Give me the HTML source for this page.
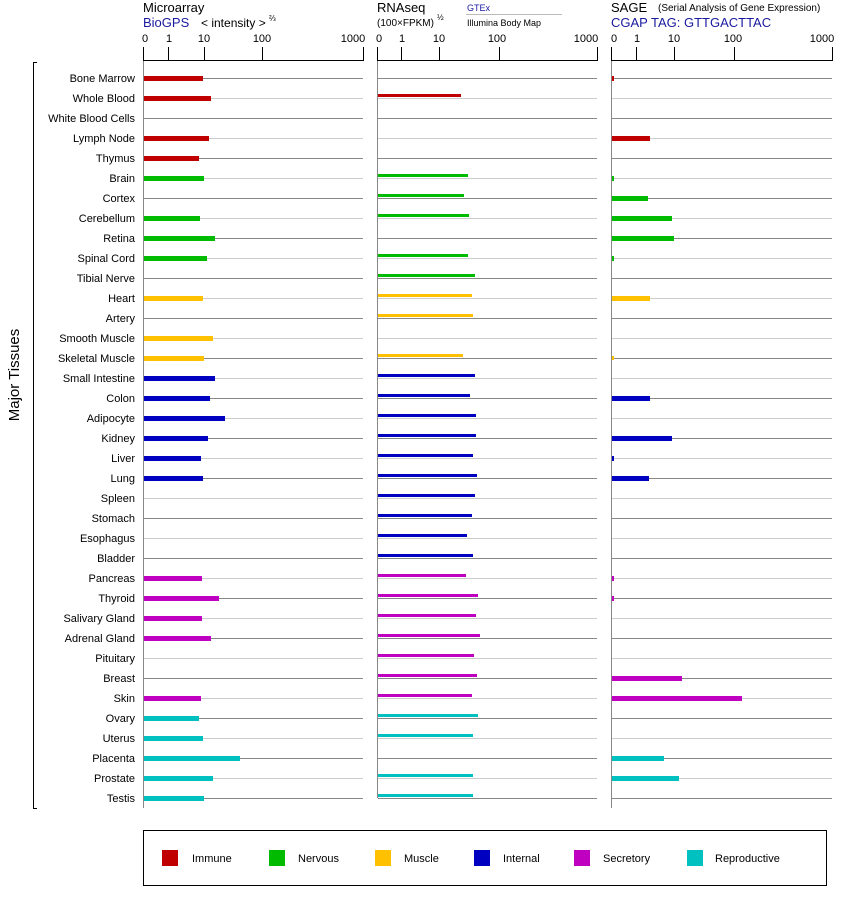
<!DOCTYPE html>
<html><head><meta charset="utf-8"><style>
body{margin:0;background:#fff;}
svg{display:block;font-family:"Liberation Sans",Arial,sans-serif;}
.l{font-size:11px;text-anchor:end;fill:#000}
.t{font-size:11px;text-anchor:middle;fill:#000}
.d{stroke:#888;stroke-width:1}
.g{stroke:#ccc;stroke-width:1}
</style></head><body>
<svg width="842" height="900" viewBox="0 0 842 900">
<text x="143" y="12" font-size="13">Microarray</text>
<text x="143" y="27" font-size="13" fill="#1a1aa0">BioGPS</text>
<text x="201" y="27" font-size="12">&lt; intensity &gt;</text>
<text x="269" y="21" font-size="8">⅔</text>
<text x="377" y="12" font-size="13">RNAseq</text>
<text x="377" y="26" font-size="10">(100×FPKM)</text>
<text x="437" y="20" font-size="8">½</text>
<text x="467" y="11" font-size="9" fill="#1a1aa0">GTEx</text>
<line x1="466" y1="14.5" x2="562" y2="14.5" stroke="#bbb"/>
<text x="467" y="26" font-size="9">Illumina Body Map</text>
<text x="611" y="12" font-size="13">SAGE</text>
<text x="658" y="11" font-size="10">(Serial Analysis of Gene Expression)</text>
<text x="611" y="27" font-size="13" fill="#1a1aa0">CGAP TAG: GTTGACTTAC</text>
<g stroke="#000" stroke-width="1">
<line x1="143.5" y1="60.5" x2="363" y2="60.5"/>
<line x1="143.5" y1="47" x2="143.5" y2="61"/><line x1="168.5" y1="47" x2="168.5" y2="61"/><line x1="204.5" y1="47" x2="204.5" y2="61"/><line x1="262.5" y1="47" x2="262.5" y2="61"/><line x1="363.5" y1="47" x2="363.5" y2="61"/>
<line x1="377.5" y1="60.5" x2="597" y2="60.5"/>
<line x1="377.5" y1="47" x2="377.5" y2="61"/><line x1="401.5" y1="47" x2="401.5" y2="61"/><line x1="439.5" y1="47" x2="439.5" y2="61"/><line x1="499.5" y1="47" x2="499.5" y2="61"/><line x1="597.5" y1="47" x2="597.5" y2="61"/>
<line x1="611.5" y1="60.5" x2="832" y2="60.5"/>
<line x1="611.5" y1="47" x2="611.5" y2="61"/><line x1="636.5" y1="47" x2="636.5" y2="61"/><line x1="674.5" y1="47" x2="674.5" y2="61"/><line x1="734.5" y1="47" x2="734.5" y2="61"/><line x1="832.5" y1="47" x2="832.5" y2="61"/>
</g>
<g class="t">
<text x="145" y="42">0</text><text x="169" y="42">1</text><text x="204" y="42">10</text><text x="262" y="42">100</text><text x="353" y="42">1000</text>
<text x="379" y="42">0</text><text x="402" y="42">1</text><text x="439" y="42">10</text><text x="497" y="42">100</text><text x="586" y="42">1000</text>
<text x="614" y="42">0</text><text x="637" y="42">1</text><text x="674" y="42">10</text><text x="733" y="42">100</text><text x="822" y="42">1000</text>
</g>
<g stroke="#888"><line x1="143.5" y1="61" x2="143.5" y2="808"/><line x1="377.5" y1="61" x2="377.5" y2="798"/><line x1="611.5" y1="61" x2="611.5" y2="808"/></g>
<path d="M37 62.5H33.5V808.5H37" fill="none" stroke="#000"/>
<text transform="translate(19,375) rotate(-90)" font-size="15" text-anchor="middle">Major Tissues</text>
<g>
<g class="d"><line x1="144" y1="78.5" x2="363" y2="78.5"/><line x1="378" y1="78.5" x2="597" y2="78.5"/><line x1="612" y1="78.5" x2="832" y2="78.5"/></g>
<g class="g"><line x1="144" y1="98.5" x2="363" y2="98.5"/><line x1="378" y1="98.5" x2="597" y2="98.5"/><line x1="612" y1="98.5" x2="832" y2="98.5"/></g>
<g class="d"><line x1="144" y1="118.5" x2="363" y2="118.5"/><line x1="378" y1="118.5" x2="597" y2="118.5"/><line x1="612" y1="118.5" x2="832" y2="118.5"/></g>
<g class="g"><line x1="144" y1="138.5" x2="363" y2="138.5"/><line x1="378" y1="138.5" x2="597" y2="138.5"/><line x1="612" y1="138.5" x2="832" y2="138.5"/></g>
<g class="d"><line x1="144" y1="158.5" x2="363" y2="158.5"/><line x1="378" y1="158.5" x2="597" y2="158.5"/><line x1="612" y1="158.5" x2="832" y2="158.5"/></g>
<g class="g"><line x1="144" y1="178.5" x2="363" y2="178.5"/><line x1="378" y1="178.5" x2="597" y2="178.5"/><line x1="612" y1="178.5" x2="832" y2="178.5"/></g>
<g class="d"><line x1="144" y1="198.5" x2="363" y2="198.5"/><line x1="378" y1="198.5" x2="597" y2="198.5"/><line x1="612" y1="198.5" x2="832" y2="198.5"/></g>
<g class="g"><line x1="144" y1="218.5" x2="363" y2="218.5"/><line x1="378" y1="218.5" x2="597" y2="218.5"/><line x1="612" y1="218.5" x2="832" y2="218.5"/></g>
<g class="d"><line x1="144" y1="238.5" x2="363" y2="238.5"/><line x1="378" y1="238.5" x2="597" y2="238.5"/><line x1="612" y1="238.5" x2="832" y2="238.5"/></g>
<g class="g"><line x1="144" y1="258.5" x2="363" y2="258.5"/><line x1="378" y1="258.5" x2="597" y2="258.5"/><line x1="612" y1="258.5" x2="832" y2="258.5"/></g>
<g class="d"><line x1="144" y1="278.5" x2="363" y2="278.5"/><line x1="378" y1="278.5" x2="597" y2="278.5"/><line x1="612" y1="278.5" x2="832" y2="278.5"/></g>
<g class="g"><line x1="144" y1="298.5" x2="363" y2="298.5"/><line x1="378" y1="298.5" x2="597" y2="298.5"/><line x1="612" y1="298.5" x2="832" y2="298.5"/></g>
<g class="d"><line x1="144" y1="318.5" x2="363" y2="318.5"/><line x1="378" y1="318.5" x2="597" y2="318.5"/><line x1="612" y1="318.5" x2="832" y2="318.5"/></g>
<g class="g"><line x1="144" y1="338.5" x2="363" y2="338.5"/><line x1="378" y1="338.5" x2="597" y2="338.5"/><line x1="612" y1="338.5" x2="832" y2="338.5"/></g>
<g class="d"><line x1="144" y1="358.5" x2="363" y2="358.5"/><line x1="378" y1="358.5" x2="597" y2="358.5"/><line x1="612" y1="358.5" x2="832" y2="358.5"/></g>
<g class="g"><line x1="144" y1="378.5" x2="363" y2="378.5"/><line x1="378" y1="378.5" x2="597" y2="378.5"/><line x1="612" y1="378.5" x2="832" y2="378.5"/></g>
<g class="d"><line x1="144" y1="398.5" x2="363" y2="398.5"/><line x1="378" y1="398.5" x2="597" y2="398.5"/><line x1="612" y1="398.5" x2="832" y2="398.5"/></g>
<g class="g"><line x1="144" y1="418.5" x2="363" y2="418.5"/><line x1="378" y1="418.5" x2="597" y2="418.5"/><line x1="612" y1="418.5" x2="832" y2="418.5"/></g>
<g class="d"><line x1="144" y1="438.5" x2="363" y2="438.5"/><line x1="378" y1="438.5" x2="597" y2="438.5"/><line x1="612" y1="438.5" x2="832" y2="438.5"/></g>
<g class="g"><line x1="144" y1="458.5" x2="363" y2="458.5"/><line x1="378" y1="458.5" x2="597" y2="458.5"/><line x1="612" y1="458.5" x2="832" y2="458.5"/></g>
<g class="d"><line x1="144" y1="478.5" x2="363" y2="478.5"/><line x1="378" y1="478.5" x2="597" y2="478.5"/><line x1="612" y1="478.5" x2="832" y2="478.5"/></g>
<g class="g"><line x1="144" y1="498.5" x2="363" y2="498.5"/><line x1="378" y1="498.5" x2="597" y2="498.5"/><line x1="612" y1="498.5" x2="832" y2="498.5"/></g>
<g class="d"><line x1="144" y1="518.5" x2="363" y2="518.5"/><line x1="378" y1="518.5" x2="597" y2="518.5"/><line x1="612" y1="518.5" x2="832" y2="518.5"/></g>
<g class="g"><line x1="144" y1="538.5" x2="363" y2="538.5"/><line x1="378" y1="538.5" x2="597" y2="538.5"/><line x1="612" y1="538.5" x2="832" y2="538.5"/></g>
<g class="d"><line x1="144" y1="558.5" x2="363" y2="558.5"/><line x1="378" y1="558.5" x2="597" y2="558.5"/><line x1="612" y1="558.5" x2="832" y2="558.5"/></g>
<g class="g"><line x1="144" y1="578.5" x2="363" y2="578.5"/><line x1="378" y1="578.5" x2="597" y2="578.5"/><line x1="612" y1="578.5" x2="832" y2="578.5"/></g>
<g class="d"><line x1="144" y1="598.5" x2="363" y2="598.5"/><line x1="378" y1="598.5" x2="597" y2="598.5"/><line x1="612" y1="598.5" x2="832" y2="598.5"/></g>
<g class="g"><line x1="144" y1="618.5" x2="363" y2="618.5"/><line x1="378" y1="618.5" x2="597" y2="618.5"/><line x1="612" y1="618.5" x2="832" y2="618.5"/></g>
<g class="d"><line x1="144" y1="638.5" x2="363" y2="638.5"/><line x1="378" y1="638.5" x2="597" y2="638.5"/><line x1="612" y1="638.5" x2="832" y2="638.5"/></g>
<g class="g"><line x1="144" y1="658.5" x2="363" y2="658.5"/><line x1="378" y1="658.5" x2="597" y2="658.5"/><line x1="612" y1="658.5" x2="832" y2="658.5"/></g>
<g class="d"><line x1="144" y1="678.5" x2="363" y2="678.5"/><line x1="378" y1="678.5" x2="597" y2="678.5"/><line x1="612" y1="678.5" x2="832" y2="678.5"/></g>
<g class="g"><line x1="144" y1="698.5" x2="363" y2="698.5"/><line x1="378" y1="698.5" x2="597" y2="698.5"/><line x1="612" y1="698.5" x2="832" y2="698.5"/></g>
<g class="d"><line x1="144" y1="718.5" x2="363" y2="718.5"/><line x1="378" y1="718.5" x2="597" y2="718.5"/><line x1="612" y1="718.5" x2="832" y2="718.5"/></g>
<g class="g"><line x1="144" y1="738.5" x2="363" y2="738.5"/><line x1="378" y1="738.5" x2="597" y2="738.5"/><line x1="612" y1="738.5" x2="832" y2="738.5"/></g>
<g class="d"><line x1="144" y1="758.5" x2="363" y2="758.5"/><line x1="378" y1="758.5" x2="597" y2="758.5"/><line x1="612" y1="758.5" x2="832" y2="758.5"/></g>
<g class="g"><line x1="144" y1="778.5" x2="363" y2="778.5"/><line x1="378" y1="778.5" x2="597" y2="778.5"/><line x1="612" y1="778.5" x2="832" y2="778.5"/></g>
<g class="d"><line x1="144" y1="798.5" x2="363" y2="798.5"/><line x1="378" y1="798.5" x2="597" y2="798.5"/><line x1="612" y1="798.5" x2="832" y2="798.5"/></g>
</g>
<g class="l">
<text x="135" y="82">Bone Marrow</text><text x="135" y="102">Whole Blood</text><text x="135" y="122">White Blood Cells</text><text x="135" y="142">Lymph Node</text><text x="135" y="162">Thymus</text>
<text x="135" y="182">Brain</text><text x="135" y="202">Cortex</text><text x="135" y="222">Cerebellum</text><text x="135" y="242">Retina</text><text x="135" y="262">Spinal Cord</text>
<text x="135" y="282">Tibial Nerve</text><text x="135" y="302">Heart</text><text x="135" y="322">Artery</text><text x="135" y="342">Smooth Muscle</text><text x="135" y="362">Skeletal Muscle</text>
<text x="135" y="382">Small Intestine</text><text x="135" y="402">Colon</text><text x="135" y="422">Adipocyte</text><text x="135" y="442">Kidney</text><text x="135" y="462">Liver</text>
<text x="135" y="482">Lung</text><text x="135" y="502">Spleen</text><text x="135" y="522">Stomach</text><text x="135" y="542">Esophagus</text><text x="135" y="562">Bladder</text>
<text x="135" y="582">Pancreas</text><text x="135" y="602">Thyroid</text><text x="135" y="622">Salivary Gland</text><text x="135" y="642">Adrenal Gland</text><text x="135" y="662">Pituitary</text>
<text x="135" y="682">Breast</text><text x="135" y="702">Skin</text><text x="135" y="722">Ovary</text><text x="135" y="742">Uterus</text><text x="135" y="762">Placenta</text>
<text x="135" y="782">Prostate</text><text x="135" y="802">Testis</text>
</g>
<g>
<rect x="144" y="76" width="59" height="5" fill="#c00000"/>
<rect x="144" y="96" width="67" height="5" fill="#c00000"/>
<rect x="144" y="136" width="65" height="5" fill="#c00000"/>
<rect x="144" y="156" width="55" height="5" fill="#c00000"/>
<rect x="144" y="176" width="60" height="5" fill="#00bb00"/>
<rect x="144" y="216" width="56" height="5" fill="#00bb00"/>
<rect x="144" y="236" width="71" height="5" fill="#00bb00"/>
<rect x="144" y="256" width="63" height="5" fill="#00bb00"/>
<rect x="144" y="296" width="59" height="5" fill="#ffc000"/>
<rect x="144" y="336" width="69" height="5" fill="#ffc000"/>
<rect x="144" y="356" width="60" height="5" fill="#ffc000"/>
<rect x="144" y="376" width="71" height="5" fill="#0000c0"/>
<rect x="144" y="396" width="66" height="5" fill="#0000c0"/>
<rect x="144" y="416" width="81" height="5" fill="#0000c0"/>
<rect x="144" y="436" width="64" height="5" fill="#0000c0"/>
<rect x="144" y="456" width="57" height="5" fill="#0000c0"/>
<rect x="144" y="476" width="59" height="5" fill="#0000c0"/>
<rect x="144" y="576" width="58" height="5" fill="#c000c0"/>
<rect x="144" y="596" width="75" height="5" fill="#c000c0"/>
<rect x="144" y="616" width="58" height="5" fill="#c000c0"/>
<rect x="144" y="636" width="67" height="5" fill="#c000c0"/>
<rect x="144" y="696" width="57" height="5" fill="#c000c0"/>
<rect x="144" y="716" width="55" height="5" fill="#00c0c0"/>
<rect x="144" y="736" width="59" height="5" fill="#00c0c0"/>
<rect x="144" y="756" width="96" height="5" fill="#00c0c0"/>
<rect x="144" y="776" width="69" height="5" fill="#00c0c0"/>
<rect x="144" y="796" width="60" height="5" fill="#00c0c0"/>
</g>
<g>
<rect x="378" y="94" width="83" height="3" fill="#c00000"/>
<rect x="378" y="174" width="90" height="3" fill="#00bb00"/>
<rect x="378" y="194" width="86" height="3" fill="#00bb00"/>
<rect x="378" y="214" width="91" height="3" fill="#00bb00"/>
<rect x="378" y="254" width="90" height="3" fill="#00bb00"/>
<rect x="378" y="274" width="97" height="3" fill="#00bb00"/>
<rect x="378" y="294" width="94" height="3" fill="#ffc000"/>
<rect x="378" y="314" width="95" height="3" fill="#ffc000"/>
<rect x="378" y="354" width="85" height="3" fill="#ffc000"/>
<rect x="378" y="374" width="97" height="3" fill="#0000c0"/>
<rect x="378" y="394" width="92" height="3" fill="#0000c0"/>
<rect x="378" y="414" width="98" height="3" fill="#0000c0"/>
<rect x="378" y="434" width="98" height="3" fill="#0000c0"/>
<rect x="378" y="454" width="95" height="3" fill="#0000c0"/>
<rect x="378" y="474" width="99" height="3" fill="#0000c0"/>
<rect x="378" y="494" width="97" height="3" fill="#0000c0"/>
<rect x="378" y="514" width="94" height="3" fill="#0000c0"/>
<rect x="378" y="534" width="89" height="3" fill="#0000c0"/>
<rect x="378" y="554" width="95" height="3" fill="#0000c0"/>
<rect x="378" y="574" width="88" height="3" fill="#c000c0"/>
<rect x="378" y="594" width="100" height="3" fill="#c000c0"/>
<rect x="378" y="614" width="98" height="3" fill="#c000c0"/>
<rect x="378" y="634" width="102" height="3" fill="#c000c0"/>
<rect x="378" y="654" width="96" height="3" fill="#c000c0"/>
<rect x="378" y="674" width="99" height="3" fill="#c000c0"/>
<rect x="378" y="694" width="94" height="3" fill="#c000c0"/>
<rect x="378" y="714" width="100" height="3" fill="#00c0c0"/>
<rect x="378" y="734" width="95" height="3" fill="#00c0c0"/>
<rect x="378" y="774" width="95" height="3" fill="#00c0c0"/>
<rect x="378" y="794" width="95" height="3" fill="#00c0c0"/>
</g>
<g>
<rect x="612" y="76" width="2" height="5" fill="#c00000"/>
<rect x="612" y="136" width="38" height="5" fill="#c00000"/>
<rect x="612" y="176" width="2" height="5" fill="#00bb00"/>
<rect x="612" y="196" width="36" height="5" fill="#00bb00"/>
<rect x="612" y="216" width="60" height="5" fill="#00bb00"/>
<rect x="612" y="236" width="62" height="5" fill="#00bb00"/>
<rect x="612" y="256" width="2" height="5" fill="#00bb00"/>
<rect x="612" y="296" width="38" height="5" fill="#ffc000"/>
<rect x="612" y="356" width="2" height="4" fill="#ffc000"/>
<rect x="612" y="396" width="38" height="5" fill="#0000c0"/>
<rect x="612" y="436" width="60" height="5" fill="#0000c0"/>
<rect x="612" y="456" width="2" height="5" fill="#0000c0"/>
<rect x="612" y="476" width="37" height="5" fill="#0000c0"/>
<rect x="612" y="576" width="2" height="5" fill="#c000c0"/>
<rect x="612" y="596" width="2" height="5" fill="#c000c0"/>
<rect x="612" y="676" width="70" height="5" fill="#c000c0"/>
<rect x="612" y="696" width="130" height="5" fill="#c000c0"/>
<rect x="612" y="756" width="52" height="5" fill="#00c0c0"/>
<rect x="612" y="776" width="67" height="5" fill="#00c0c0"/>
</g>
<rect x="143.5" y="830.5" width="683" height="55" fill="none" stroke="#000"/>
<rect x="162" y="850" width="16" height="16" fill="#c00000"/>
<rect x="269" y="850" width="16" height="16" fill="#00bb00"/>
<rect x="375" y="850" width="16" height="16" fill="#ffc000"/>
<rect x="474" y="850" width="16" height="16" fill="#0000c0"/>
<rect x="574" y="850" width="16" height="16" fill="#c000c0"/>
<rect x="687" y="850" width="16" height="16" fill="#00c0c0"/>
<g font-size="11">
<text x="192" y="862">Immune</text><text x="298" y="862">Nervous</text><text x="404" y="862">Muscle</text><text x="503" y="862">Internal</text><text x="603" y="862">Secretory</text><text x="715" y="862">Reproductive</text>
</g>
</svg>
</body></html>
